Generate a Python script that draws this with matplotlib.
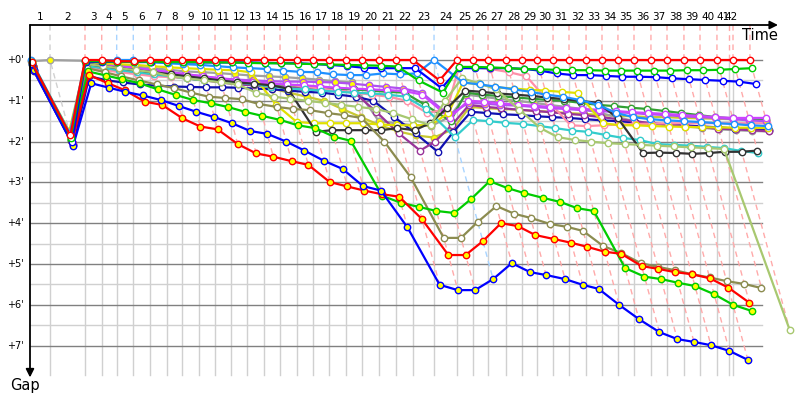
import matplotlib
matplotlib.use("Agg")
import matplotlib.pyplot as plt

N = None

# leader time (minutes) at each checkpoint
cp_time = [0.09, 1.82, 5.0, 6.52, 7.88, 9.39, 10.91, 12.43, 13.85, 15.36, 16.82,
           18.27, 19.75, 21.3, 22.73, 24.25, 25.75, 27.18, 28.7, 30.21, 31.73,
           33.25, 34.82, 36.73, 38.82, 40.27, 41.64, 43.27, 44.73, 46.09, 47.55,
           49.0, 50.55, 52.0, 53.45, 54.91, 56.45, 57.91, 59.45, 60.91, 62.45,
           63.55, 63.91, 65.45]
cp_labels = [str(i) for i in range(1, 43)]

# gap to leader (minutes) per rider and checkpoint
red = [0.05, 1.85, 0, 0, 0.03, 0.03, 0, 0, 0, 0, 0, 0, 0, 0, 0, 0, 0, 0, 0, 0, 0, 0, 0,
       0.5, 0, 0, 0, 0, 0, 0, 0, 0, 0, 0, 0, 0, 0, 0, 0, 0, 0, N, 0, 0]
dodger = [0.0, 1.8, 0.02, 0.02, 0, 0, 0.05, 0.08, 0.1, 0.12, 0.15, 0.18, 0.2, 0.22, 0.26,
          0.29, 0.3, 0.35, 0.37, 0.37, 0.33, 0.35, 0.33, 0, 0.55, 0.6, 0.65, 0.72, 0.78,
          0.85, 0.9, 0.98, 1.1, 1.3, 1.4, 1.45, 1.48, 1.5, 1.52, 1.55, 1.57, N, 1.6, 1.62]
green = [0.05, 1.9, 0.03, 0.03, 0.04, 0.04, 0.04, 0.05, 0.05, 0.05, 0.06, 0.06, 0.07, 0.08,
         0.08, 0.09, 0.1, 0.11, 0.12, 0.13, 0.14, 0.16, 0.5, 0.8, 0.17, 0.17, 0.18, 0.2,
         0.22, 0.23, 0.24, 0.25, 0.25, 0.26, 0.26, 0.26, 0.26, 0.26, 0.25, 0.25, 0.24, N, 0.22, 0.2]
blue = [0.1, 2.0, 0.05, 0.05, 0.04, 0.05, 0.05, 0.05, 0.05, 0.06, 0.06, 0.06, 0.06, 0.07,
        0.08, 0.08, 0.1, 0.12, 0.15, 0.19, 0.2, 0.2, 0.2, 0.69, 0.2, 0.2, 0.2, 0.2, 0.22,
        0.26, 0.33, 0.37, 0.37, 0.39, 0.41, 0.41, 0.42, 0.45, 0.47, 0.49, 0.51, N, 0.53, 0.59]
teal = [0.1, 1.85, 0.15, 0.2, 0.25, 0.3, 0.35, 0.4, 0.45, 0.5, 0.52, 0.55, 0.6, 0.65, 0.7,
        0.72, 0.75, 0.78, 0.8, 0.82, 0.85, 0.9, 1.2, 1.89, 1.47, 1.5, 1.54, 1.57, 1.62, 1.67,
        1.73, 1.76, 1.84, 1.91, 1.96, 2.06, 2.08, 2.1, 2.13, 2.16, 2.23, N, 2.28, N]
black = [0.15, 1.95, 0.1, 0.15, 0.2, 0.25, 0.3, 0.35, 0.4, 0.45, 0.5, 0.55, 0.58, 0.62, 0.7,
         1.76, 1.72, 1.72, 1.72, 1.72, 1.67, 1.72, 1.55, 1.18, 0.75, 0.78, 0.82, 0.85, 0.88,
         0.92, 0.96, 1.0, 1.05, 1.42, 2.28, 2.27, 2.28, 2.3, 2.28, 2.25, 2.25, N, 2.22, N]
magenta = [0.2, 2.0, 0.08, 0.12, 0.15, 0.2, 0.25, 0.3, 0.35, 0.4, 0.45, 0.5, 0.55, 0.58, 0.6,
           0.62, 0.65, 0.68, 0.7, 0.72, 0.74, 0.76, 0.85, 1.42, 1.0, 1.02, 1.06, 1.1, 1.12,
           1.15, 1.18, 1.2, 1.22, 1.25, 1.28, 1.3, 1.32, 1.35, 1.37, 1.4, 1.42, N, 1.42, 1.42]
purple = [0.25, 2.05, 0.15, 0.2, 0.25, 0.3, 0.35, 0.4, 0.45, 0.5, 0.55, 0.6, 0.62, 0.65, 0.68,
          0.7, 0.72, 0.75, 0.8, 1.27, 1.8, 2.22, 2.0, 1.6, 1.1, 1.15, 1.18, 1.22, 1.25, 1.28,
          1.32, 1.35, 1.4, 1.45, 1.5, 1.55, 1.58, 1.62, 1.65, 1.68, 1.7, N, 1.72, 1.75]
navy = [0.28, 2.08, 0.4, 0.5, 0.55, 0.6, 0.63, 0.65, 0.66, 0.67, 0.67, 0.68, 0.7, 0.72, 0.75,
        0.78, 0.8, 0.85, 0.9, 1.0, 1.4, 1.8, 2.25, 1.76, 1.27, 1.3, 1.33, 1.35, 1.38, 1.4,
        1.42, 1.45, 1.48, 1.5, 1.53, 1.56, 1.58, 1.6, 1.63, 1.65, 1.68, N, 1.7, 1.72]
yellow = [0.05, 1.75, 0.05, 0.08, 0.1, 0.12, 0.15, 0.18, 0.2, 0.22, 0.24, 0.25, 0.3, 1.1,
          1.52, 1.55, 1.55, 1.55, 1.55, 1.58, 1.6, 1.6, 1.6, 1.3, 0.55, 0.6, 0.67, 0.7, 0.73,
          0.75, 0.78, 0.81, 1.55, 1.6, 1.6, 1.62, 1.63, 1.64, 1.65, 1.65, 1.66, N, 1.66, 1.67]
yellowgreen = [0.12, 1.8, 0.1, 0.15, 0.2, 0.25, 0.3, 0.4, 0.45, 0.5, 0.55, 0.6, 0.8, 0.9, 0.95,
               1.0, 1.05, 1.1, 1.15, 1.2, 1.3, 1.45, 1.6, 1.0, 0.45, 0.57, 0.72, 1.22, 1.67,
               1.89, 1.96, 2.0, 2.04, 2.06, 2.08, 2.1, 2.12, 2.14, 2.16, 2.18, 6.62, N, N, N]
olive = [0.15, 1.9, 0.2, 0.3, 0.4, 0.5, 0.6, 0.69, 0.8, 0.9, 0.93, 0.96, 1.08, 1.15, 1.2, 1.23,
         1.3, 1.35, 1.42, 2.0, 2.87, 4.36, 4.36, 3.97, 3.58, 3.77, 3.87, 4.02, 4.09, 4.19,
         4.56, 4.73, 4.98, 5.07, 5.15, 5.25, 5.33, 5.42, 5.49, 5.59, N, N, N, N]
red_y = [0.18, 2.0, 0.37, 0.57, 0.74, 1.02, 1.1, 1.43, 1.63, 1.7, 2.06, 2.29, 2.37, 2.48, 2.57,
         2.99, 3.1, 3.2, 3.29, 3.35, 3.9, 4.78, 4.78, 4.44, 4.0, 4.07, 4.29, 4.39, 4.48, 4.58,
         4.7, 4.75, 5.05, 5.12, 5.2, 5.25, 5.35, 5.58, 5.95, N, N, N, N, N]
blue_y = [0.25, 2.1, 0.57, 0.68, 0.78, 0.87, 0.98, 1.13, 1.27, 1.4, 1.55, 1.74, 1.81, 2.0, 2.22,
          2.47, 2.67, 3.09, 3.2, 4.1, 5.51, 5.64, 5.64, 5.37, 4.98, 5.2, 5.27, 5.37, 5.51, 5.61,
          6.0, 6.35, 6.67, 6.84, 6.91, 6.99, 7.13, 7.35, N, N, N, N, N, N]
green_y = [0.2, 1.95, 0.28, 0.38, 0.47, 0.57, 0.72, 0.86, 0.98, 1.06, 1.15, 1.27, 1.37, 1.47,
           1.6, 1.67, 1.88, 1.98, 3.33, 3.5, 3.6, 3.7, 3.75, 3.4, 2.97, 3.14, 3.26, 3.38, 3.48,
           3.63, 3.7, 5.1, 5.31, 5.37, 5.46, 5.54, 5.74, 6.0, 6.15, N, N, N, N, N]
gray = [0.03, 0.0, 0.02, 0.08, 0.12, 0.16, 0.2, 0.24, 0.28, 0.3, 0.32, 0.35, 0.38, 0.4, 0.42,
        0.45, 0.48, 0.52, 0.55, 1.5, 1.55, 1.6, 1.62, 1.4, 0.85, 0.9, 0.95, 1.0, 1.05, 1.1,
        1.15, 1.2, 1.3, 1.4, 1.5, 1.55, 1.6, 1.63, 1.66, 1.7, 1.72, N, 1.74, 1.75]
pink = [0.2, 2.02, 0.2, 0.25, 0.3, 0.35, 0.4, 0.42, 0.45, 0.48, 0.5, 0.52, 0.55, 0.58, 0.6,
        0.65, 0.7, 0.75, 0.8, 0.85, 0.9, 1.0, 1.3, 1.2, 0.17, 0.18, 0.22, 0.3, 0.4, 1.0, 1.6,
        1.62, 1.6, 1.58, 1.57, 1.56, 1.55, 1.55, 1.55, 1.55, 1.55, N, 1.55, 1.55]
forest = [0.15, 1.9, 0.15, 0.2, 0.25, 0.3, 0.35, 0.4, 0.45, 0.5, 0.52, 0.55, 0.57, 0.6, 0.62,
          0.65, 0.68, 0.7, 0.72, 0.75, 0.78, 0.8, 1.1, 1.5, 0.8, 0.85, 0.88, 0.92, 0.95, 0.98,
          1.0, 1.05, 1.1, 1.13, 1.17, 1.2, 1.25, 1.3, 1.35, 1.4, 1.43, N, 1.45, 1.47]
khaki = [0.1, 1.78, 0.1, 0.15, 0.2, 0.25, 0.3, 0.35, 0.4, 0.45, 0.5, 0.55, 0.6, 0.7, 0.8, 0.9,
         1.0, 1.2, 1.4, 1.6, 1.75, 1.85, 1.9, 1.7, 1.15, 1.18, 1.2, 1.22, 1.25, 1.27, 1.3,
         1.32, 1.35, 1.37, 1.38, 1.4, 1.4, 1.42, 1.43, 1.44, 1.45, N, 1.45, 1.46]
violet = [0.22, 2.0, 0.05, 0.1, 0.15, 0.2, 0.25, 0.3, 0.35, 0.4, 0.45, 0.48, 0.5, 0.52, 0.53,
          0.53, 0.54, 0.55, 0.58, 0.62, 0.66, 0.7, 0.8, 1.35, 1.05, 1.07, 1.1, 1.12, 1.15,
          1.18, 1.2, 1.23, 1.25, 1.28, 1.3, 1.33, 1.35, 1.38, 1.4, 1.42, 1.45, N, 1.48, 1.5]

# drawing order: back to front (line colour, marker face)
riders = [
    (khaki, "#c8c832", "#ffff00"), (gray, "#a0a0a0", "#ffff00"),
    (navy, "#1010b0", "white"), (purple, "#993399", "white"),
    (forest, "#33a033", "white"), (pink, "#ff8fa8", "white"),
    (violet, "#b050f0", "#ffff00"), (magenta, "#cc44ff", "white"),
    (yellow, "#e0e000", "white"), (teal, "#33cccc", "white"),
    (black, "#333333", "white"), (yellowgreen, "#a8c870", "white"),
    (olive, "#8c8c50", "white"), (green_y, "#00cc00", "#ffff00"),
    (red_y, "#ff0000", "#ffff00"), (blue_y, "#0000ff", "#ffff00"),
    (dodger, "#1e90ff", "white"), (blue, "#0000ff", "white"),
    (green, "#00cc00", "white"), (red, "#ff0000", "white"),
]
dash_colour = {"#ff0000": "#ffaaaa", "#1e90ff": "#a8d4ff", "#a0a0a0": "#d0d0d0"}

XS, YS = 11.0, 40.8          # pixels per minute (time, gap)
top_g = -35 / YS
bot_g = 315 / YS

fig = plt.figure(figsize=(8, 4), dpi=100)
ax = fig.add_axes([0, 0, 1, 1])
ax.set_xlim(-30 / XS, 770 / XS)
ax.set_ylim(340 / YS, -60 / YS)
ax.axis("off")

right_t = 732 / XS
# grid
for g in range(8):
    ax.plot([0, right_t], [g, g], color="#808080", lw=1, zorder=1)
    if g < 7:
        ax.plot([0, right_t], [g + 0.5, g + 0.5], color="#d0d0d0", lw=1, zorder=0)
for t in cp_time[1:43]:
    ax.plot([t, t], [0, bot_g], color="#d0d0d0", lw=1, zorder=0)

# checkpoint lines in the leader's colour
for k, t in enumerate(cp_time[1:], start=1):
    gaps = [(r[0][k], r[1]) for r in riders if r[0][k] is not None]
    if gaps:
        gmax = max(g for g, c in gaps)
        lead = min(gaps, key=lambda p: p[0])[1]
        xs, ys = [t, t, t + gmax], [top_g, 0, gmax]
    else:
        lead = "#ff0000"
        xs, ys = [t, t], [top_g, 0]
    ax.plot(xs, ys, color=dash_colour.get(lead, "#ffaaaa"), lw=1,
            dashes=(4, 3), zorder=2)

# riders
for vals, col, face in riders:
    pts = [(cp_time[i] + g, g) for i, g in enumerate(vals) if g is not None]
    ax.plot([p[0] for p in pts], [p[1] for p in pts], color=col, lw=1.6,
            marker="o", ms=4.6, mfc=face, mec=col, mew=1.0, zorder=3,
            solid_joinstyle="round")

# axes with arrows
ax.annotate("", xy=(68.0, top_g), xytext=(0, top_g),
            arrowprops=dict(arrowstyle="-|>", color="black", lw=1.3,
                            mutation_scale=12, shrinkA=0, shrinkB=0))
ax.annotate("", xy=(0, 7.78), xytext=(0, top_g),
            arrowprops=dict(arrowstyle="-|>", color="black", lw=1.3,
                            mutation_scale=12, shrinkA=0, shrinkB=0))
ax.text(66.4, -0.59, "Time", fontsize=10.5, ha="center", va="center")
ax.text(-0.45, 7.99, "Gap", fontsize=10.5, ha="center", va="center")

for g in range(8):
    ax.text(-0.55, g, "+%d'" % g, fontsize=7, ha="right", va="center")
for k, lab in enumerate(cp_labels):
    xm = (cp_time[k] + cp_time[k + 1]) / 2
    ax.text(xm, -1.05, lab, fontsize=7.5, ha="center", va="center")

fig.savefig("out.png", dpi=100, facecolor="white")
